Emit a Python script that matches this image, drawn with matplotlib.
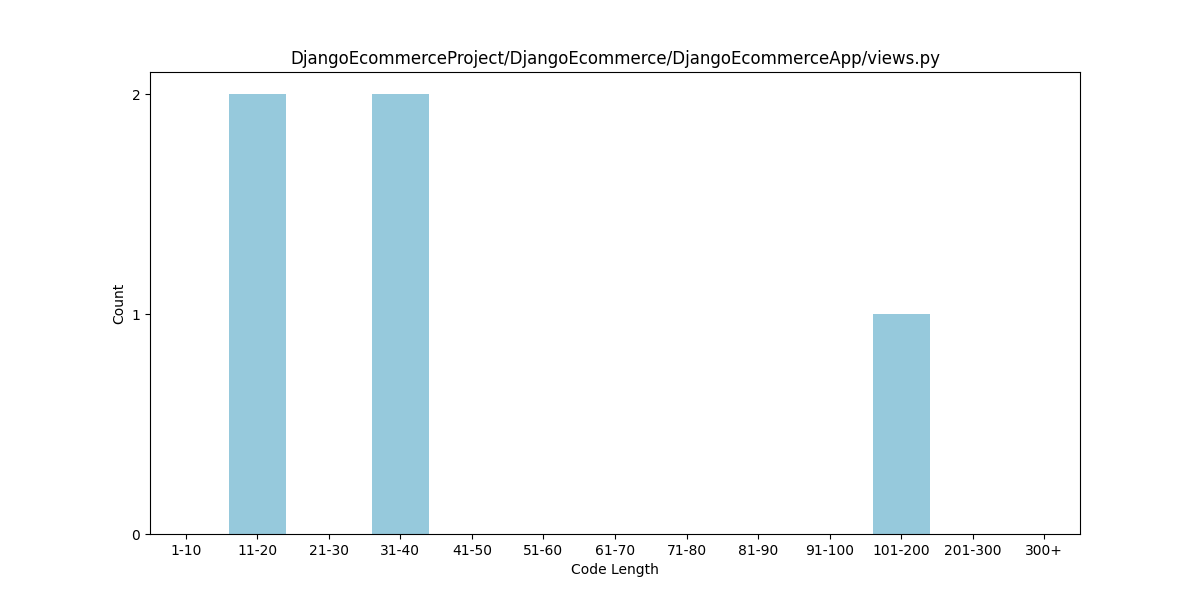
import matplotlib
matplotlib.use('Agg')
import matplotlib.pyplot as plt

# Data
categories = ['1-10', '11-20', '21-30', '31-40', '41-50', '51-60', '61-70',
              '71-80', '81-90', '91-100', '101-200', '201-300', '300+']
counts = [0, 2, 0, 2, 0, 0, 0, 0, 0, 0, 1, 0, 0]

fig, ax = plt.subplots(figsize=(12, 6), dpi=100)
ax.bar(categories, counts, color='#96c9dc')
ax.set_xlim(-0.5, len(categories) - 0.5)

ax.set_title('DjangoEcommerceProject/DjangoEcommerce/DjangoEcommerceApp/views.py')
ax.set_xlabel('Code Length')
ax.set_ylabel('Count')
ax.set_yticks([0, 1, 2])

fig.savefig('out.png')
